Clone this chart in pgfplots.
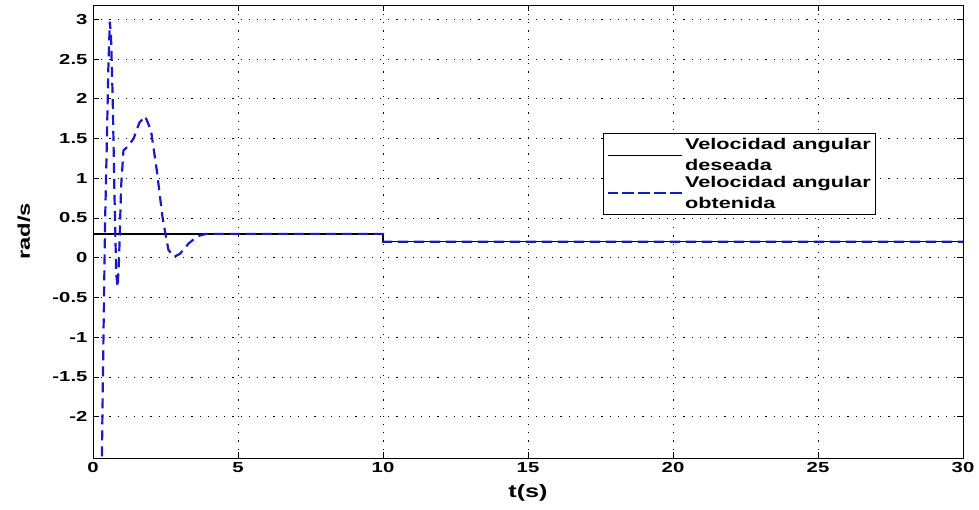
\documentclass[border=0pt]{standalone}
\usepackage{pgfplots}
\pgfplotsset{compat=1.18}
\usepackage{fontspec}
\setmainfont{Liberation Sans}
\newfontfamily\wfont[FakeStretch=1.4]{Liberation Sans}
\usetikzlibrary{calc}
\definecolor{obt}{RGB}{25,25,200}
\begin{document}
\begin{tikzpicture}
\begin{axis}[
  scale only axis,
  width=870pt, height=453pt,
  xmin=0, xmax=30, ymin=-2.52, ymax=3.18,
  xtick={0,5,...,30},
  xticklabels={0,5,10,15,20,25,30},
  ytick={-2,-1.5,...,3},
  yticklabels={-2,-1.5,-1,-0.5,0,0.5,1,1.5,2,2.5,3},
  xticklabel style={font=\wfont\bfseries\fontsize{14.5}{14.5}\selectfont, yshift=-1pt},
  yticklabel style={font=\wfont\bfseries\fontsize{14.5}{14.5}\selectfont, xshift=-2pt},
  /pgf/number format/assume math mode=true,
  tick align=inside,
  major tick length=6pt,
  tick style={black, line width=0.6pt},
  xmajorgrids, ymajorgrids,
  grid style={black, line width=0.8pt, dash pattern=on 1.2pt off 7pt},
  axis line style={black, line width=0.9pt},
  xlabel={t(s)},
  ylabel={rad/s},
  xlabel style={font=\wfont\bfseries\fontsize{18}{18}\selectfont, at={(axis description cs:0.5,0)}, anchor=center, yshift=-35pt},
  ylabel style={font=\wfont\bfseries\fontsize{17}{17}\selectfont, at={(axis description cs:0,0.5)}, anchor=center, rotate=0, yshift=69pt},
  clip=true,
  legend style={at={(axis cs:17.6,1.57)}, anchor=north west, draw=black, line width=0.8pt,
    font=\wfont\bfseries\fontsize{15.5}{21}\selectfont, cells={align=left}, inner sep=3pt,
    row sep=0pt},
  legend cell align=left,
  legend image code/.code={\path (0pt,0pt) -- (74pt,0pt);\draw[#1] (14pt,0pt) -- (74pt,0pt);},
]
\addplot[black, line width=1.3pt] coordinates {
(0,0.3) (10,0.3) (10,0.2) (30,0.2)};
\addlegendentry{Velocidad angular\\deseada}
\addplot[obt, line width=2.2pt, dash pattern=on 10pt off 6pt] coordinates {
(0.30,-2.7) (0.36,-1.0) (0.42,0.5) (0.48,1.5) (0.53,2.4) (0.58,2.97) (0.62,2.8)
(0.68,2.0) (0.74,0.8) (0.80,-0.2) (0.85,-0.37) (0.90,0.0) (0.97,0.9) (1.05,1.35)
(1.2,1.4) (1.4,1.5) (1.6,1.7) (1.8,1.78) (2.0,1.6) (2.2,1.1) (2.4,0.5) (2.6,0.1)
(2.8,0.01) (3.0,0.05) (3.3,0.18) (3.6,0.27) (3.9,0.3) (10,0.3) (10,0.2) (30,0.2)};
\addlegendentry{Velocidad angular\\obtenida}
\end{axis}
\path ($(current axis.south west)+(-93pt,-52pt)$) rectangle ($(current axis.north east)+(16pt,5pt)$);
\end{tikzpicture}
\end{document}
